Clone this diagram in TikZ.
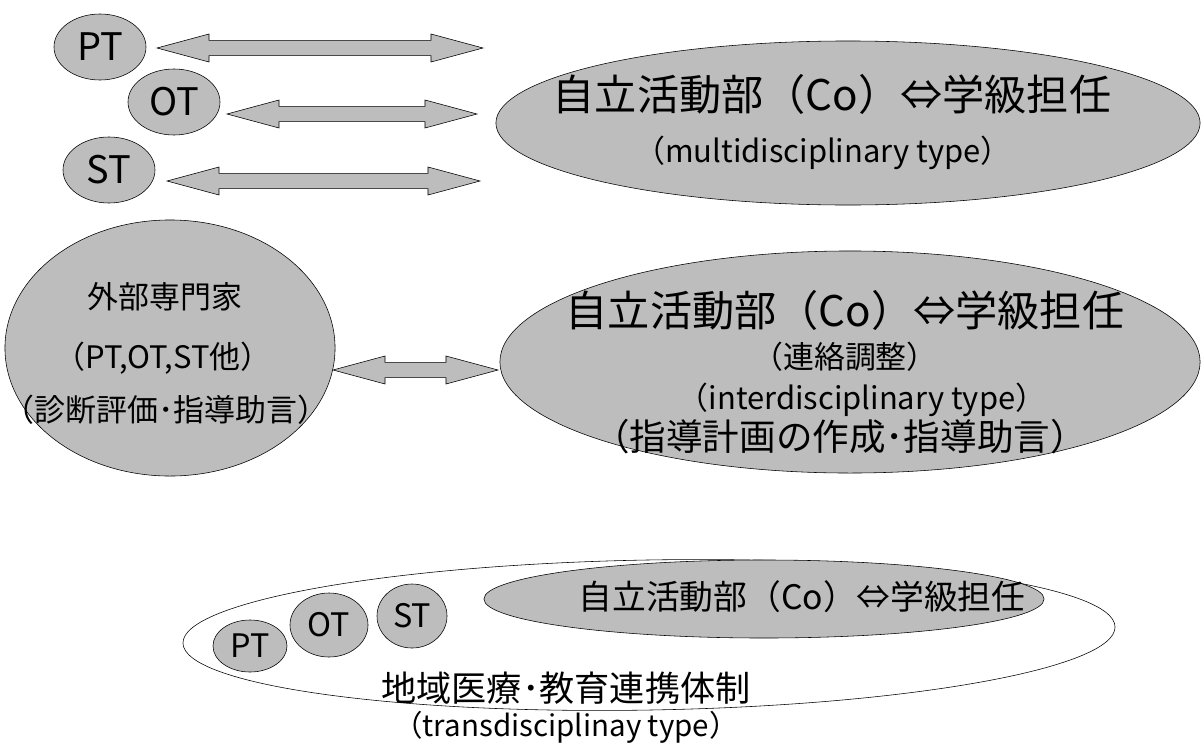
\documentclass[tikz,border=0pt]{standalone}
\usepackage{fontspec}
\setmainfont{Noto Sans CJK JP}
\usetikzlibrary{positioning,calc,shapes.geometric}

% fat double arrow between two points on one level
\newcommand{\fatarrow}[2]{%
    \path[fatarr] let \p1=(#1), \p2=(#2) in
        (\x1,\y1) -- (\x1+1.3cm,\y1+0.35cm) -- (\x1+1.3cm,\y1+0.19cm)
        -- (\x2-1.3cm,\y1+0.19cm) -- (\x2-1.3cm,\y1+0.35cm) -- (\x2,\y1)
        -- (\x2-1.3cm,\y1-0.35cm) -- (\x2-1.3cm,\y1-0.19cm)
        -- (\x1+1.3cm,\y1-0.19cm) -- (\x1+1.3cm,\y1-0.35cm) -- cycle;%
}

\begin{document}
\begin{tikzpicture}[
        x=0.025cm, y=-0.025cm,
        blob/.style={
            ellipse,
            draw,
            fill=black!26,
            inner sep=0pt
        },
        ring/.style={ellipse, draw, fill=white, inner sep=0pt},
        lbl/.style={inner sep=0pt, align=center},
        fatarr/.style={draw, fill=black!26, line join=miter},
        huge/.style={font=\fontsize{30}{34}\selectfont},
        mid/.style={font=\fontsize{22}{26}\selectfont},
        small/.style={font=\fontsize{22}{26}\selectfont},
    ]

        \useasboundingbox (0,0) rectangle (1202,743);

        % multidisciplinary
        \node[blob, minimum width=2.3cm, minimum height=1.65cm] (pt) at (100,47) {};
        \node[blob, minimum width=2.3cm, minimum height=1.65cm] (ot) at (174,102) {};
        \node[blob, minimum width=2.3cm, minimum height=1.65cm] (st) at (109,170) {};
        \foreach \n/\t in {pt/PT, ot/OT, st/ST}
            \node[lbl, font=\fontsize{27}{30}\selectfont] at (\n) {\t};

        \node[blob, minimum width=17.6cm, minimum height=4.1cm] (multi) at (848,123) {};
        \node[lbl, huge] (multi1) at (832,94) {自立活動部（Co）⇔学級担任};
        \node[lbl, small] (multi2) at (823,153) {（multidisciplinary type）};

        \coordinate (ptL) at (157,48);   \coordinate (ptR) at (483,48);
        \coordinate (otL) at (227,114);  \coordinate (otR) at (477,114);
        \coordinate (stL) at (167,181);  \coordinate (stR) at (480,181);
        \fatarrow{ptL}{ptR}
        \fatarrow{otL}{otR}
        \fatarrow{stL}{stR}

        % interdisciplinary
        \node[blob, minimum width=8.25cm, minimum height=6.4cm] (ext) at (170,348) {};
        \node[lbl, mid] (ext1) at (165,297) {外部専門家};
        \node[lbl, mid] (ext2) at (163,358) {（PT,OT,ST他）};
        \node[lbl, mid] (ext3) at (166,410) {（診断評価･指導助言）};

        \node[blob, minimum width=17.5cm, minimum height=5.55cm] (inter) at (850,362) {};
        \node[lbl, huge] (inter1) at (845,310) {自立活動部（Co）⇔学級担任};
        \node[lbl, font=\fontsize{22}{26}\selectfont] (inter2) at (845,357) {（連絡調整）};
        \node[lbl, small] (inter3) at (862,400) {（interdisciplinary type）};
        \node[lbl, font=\fontsize{26}{30}\selectfont] (inter4) at (840,437) {（指導計画の作成･指導助言）};

        \coordinate (extR) at (333,370);  \coordinate (interL) at (498,370);
        \fatarrow{extR}{interL}

        % transdisciplinary
        \node[ring, rotate=1, minimum width=23.3cm, minimum height=3.75cm] (team) at (649,635) {};
        \node[blob, minimum width=1.85cm, minimum height=1.3cm] (tpt) at (250,646) {};
        \node[blob, minimum width=1.95cm, minimum height=1.6cm] (tot) at (329,625) {};
        \node[blob, minimum width=1.75cm, minimum height=1.6cm] (tst) at (412,616) {};
        \foreach \n/\t in {tpt/PT, tot/OT, tst/ST}
            \node[lbl, font=\fontsize{23}{26}\selectfont] at (\n) {\t};
        \node[blob, minimum width=14cm, minimum height=1.95cm] (tco) at (764,599) {};
        \node[lbl, font=\fontsize{24}{28}\selectfont] (tco1) at (802,597) {自立活動部（Co）⇔学級担任};

        \node[lbl, font=\fontsize{25}{28}\selectfont] (team1) at (566,688) {地域医療･教育連携体制};
        \node[lbl, font=\fontsize{21}{24}\selectfont] (team2) at (566,727) {（transdisciplinay type）};

    \end{tikzpicture}
\end{document}
